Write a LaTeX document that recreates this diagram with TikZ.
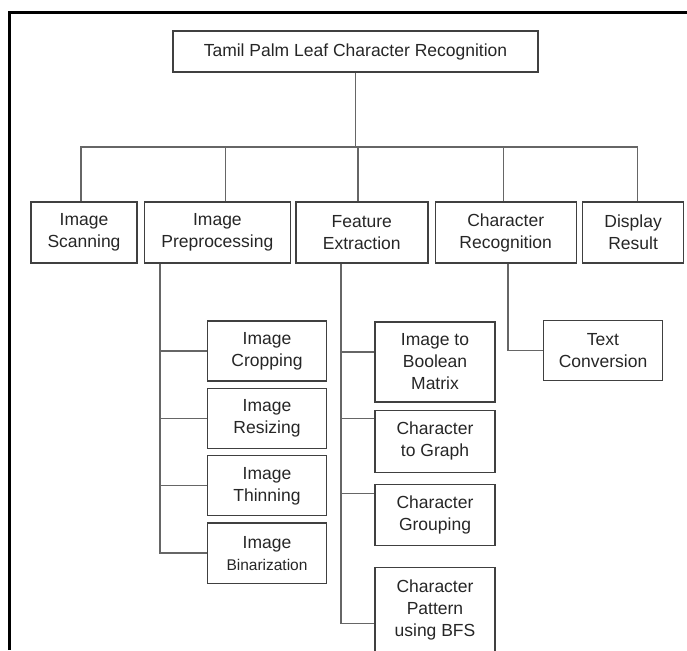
\documentclass[tikz,border=0pt]{standalone}
\usepackage{fontspec}
\setmainfont{Liberation Sans}
\usetikzlibrary{positioning}

\begin{document}
\begin{tikzpicture}[x=1pt, y=1pt, every node/.style={font=\fontsize{17.5}{22}\selectfont, text=black!85}, box/.style={draw=black!75, line width=1.4pt, align=center, inner sep=0pt, minimum height=61pt}, sub/.style={box, minimum width=119pt, minimum height=60pt}, link/.style={draw=black!60, line width=1.4pt}]
\useasboundingbox (0,0) rectangle (687,650);
\draw[line width=3pt] (9,0) |- (687,637);
% top and first level
\node[box, minimum width=365pt, minimum height=41pt] (root) at (355.5,598.5) {Tamil Palm Leaf Character Recognition};
\node[box, minimum width=106pt] (scan) at (84,417.5) {Image\\Scanning};
\node[box, minimum width=146pt, right=6pt of scan] (prep) {Image\\Preprocessing};
\node[box, minimum width=132pt, right=4pt of prep] (feat) {Feature\\Extraction};
\node[box, minimum width=141pt, right=6pt of feat] (crec) {Character\\Recognition};
\node[box, minimum width=101pt, right=5pt of crec] (disp) {Display\\Result};
% preprocessing steps
\node[sub] (crop) at (267,299) {Image\\Cropping};
\node[sub, below=6pt of crop] (resize) {Image\\Resizing};
\node[sub, below=6pt of resize] (thin) {Image\\Thinning};
\node[sub, below=6pt of thin] (binar) {Image\\{\fontsize{15.5}{22}\selectfont Binarization}};
% feature steps
\node[sub, minimum width=120pt, minimum height=80pt] (boolmat) at (435,288) {Image to\\Boolean\\Matrix};
\node[sub, minimum width=120pt, minimum height=62pt, below=7pt of boolmat] (graph) {Character\\to Graph};
\node[sub, minimum width=120pt, minimum height=61pt, below=11pt of graph] (group) {Character\\Grouping};
\node[sub, minimum width=120pt, minimum height=85pt, below=20pt of group] (bfs) {Character\\Pattern\\using BFS};
% recognition step
\node[sub] (textconv) at (603,299.5) {Text\\Conversion};
\coordinate (bus) at (0,503);
\coordinate (preptrunk) at (160,0);
\coordinate (feattrunk) at (341,0);
\coordinate (crectrunk) at (508,0);
\draw[link] (root.south) -- (root.south |- bus);
\draw[link] ([xshift=-3pt]scan.north) |- ([xshift=4.5pt]disp.north |- bus) -- ([xshift=4.5pt]disp.north);
\draw[link] ([xshift=8pt]prep.north) -- ([xshift=8pt]prep.north |- bus);
\draw[link] ([xshift=-4pt]feat.north) -- ([xshift=-4pt]feat.north |- bus);
\draw[link] ([xshift=-2.5pt]crec.north) -- ([xshift=-2.5pt]crec.north |- bus);
\draw[link] (prep.south -| preptrunk) |- (binar.west);
\foreach \n in {crop,resize,thin}
  \draw[link] (\n.west -| preptrunk) -- (\n.west);
\draw[link] (feat.south -| feattrunk) |- ([yshift=-13.5pt]bfs.west);
\draw[link] ([yshift=10pt]boolmat.west -| feattrunk) -- ([yshift=10pt]boolmat.west);
\draw[link] ([yshift=23pt]graph.west -| feattrunk) -- ([yshift=23pt]graph.west);
\draw[link] ([yshift=21.5pt]group.west -| feattrunk) -- ([yshift=21.5pt]group.west);
\draw[link] (crec.south -| crectrunk) |- (textconv.west);
\end{tikzpicture}
\end{document}
